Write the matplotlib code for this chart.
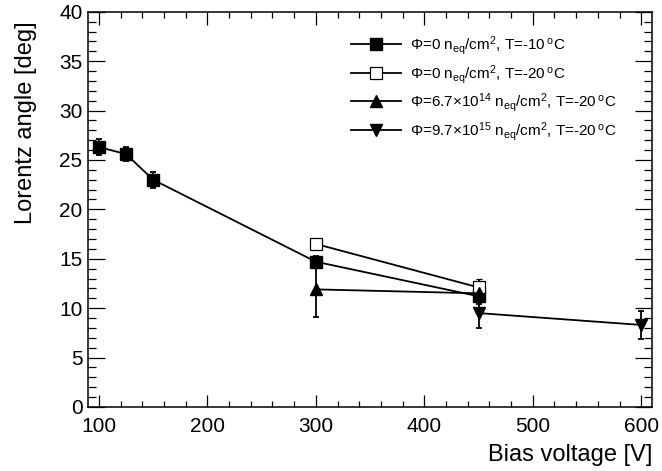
import matplotlib
matplotlib.use("Agg")
import matplotlib.pyplot as plt
from matplotlib.ticker import MultipleLocator
from matplotlib.lines import Line2D

plt.rcParams['font.family'] = ['Liberation Sans', 'DejaVu Sans']
plt.rcParams['mathtext.fontset'] = 'custom'
plt.rcParams['mathtext.rm'] = 'Liberation Sans'
plt.rcParams['mathtext.it'] = 'Liberation Sans'

# Data
x1 = [100, 125, 150, 300, 450]
y1 = [26.3, 25.6, 23.0, 14.7, 11.2]
e1 = [0.8, 0.7, 0.8, 0.6, 0.8]

x2 = [300, 450]
y2 = [16.5, 12.1]
e2 = [0.0, 0.9]

x3 = [300, 450]
y3 = [11.9, 11.5]
e3 = [2.8, 0.5]

x4 = [450, 600]
y4 = [9.5, 8.3]
e4 = [1.5, 1.4]

labels = [
    r'$\Phi$=0 n$_{\rm eq}$/cm$^{2}$, T=-10$\,^{\rm o}$C',
    r'$\Phi$=0 n$_{\rm eq}$/cm$^{2}$, T=-20$\,^{\rm o}$C',
    r'$\Phi$=6.7$\times$10$^{14}$ n$_{\rm eq}$/cm$^{2}$, T=-20$\,^{\rm o}$C',
    r'$\Phi$=9.7$\times$10$^{15}$ n$_{\rm eq}$/cm$^{2}$, T=-20$\,^{\rm o}$C',
]

fig = plt.figure(figsize=(6.62, 4.71), dpi=100)
ax = fig.add_axes([0.133, 0.136, 0.852, 0.839])

LW = 1.3
common = dict(color='black', lw=LW, elinewidth=LW, capsize=2, capthick=LW)
styles = [
    dict(marker='s', ms=8, mfc='black', mec='black'),
    dict(marker='s', ms=8.5, mfc='white', mec='black', mew=0.9),
    dict(marker='^', ms=8.5, mfc='black', mec='black'),
    dict(marker='v', ms=8.5, mfc='black', mec='black'),
]
ax.errorbar(x1, y1, yerr=e1, **styles[0], **common)
ax.errorbar(x2, y2, yerr=e2, **styles[1], **common)
ax.errorbar(x3, y3, yerr=e3, **styles[2], **common)
ax.errorbar(x4, y4, yerr=e4, **styles[3], **common)

ax.set_xlim(90, 610)
ax.set_ylim(0, 40)
ax.xaxis.set_major_locator(MultipleLocator(100))
ax.xaxis.set_minor_locator(MultipleLocator(20))
ax.yaxis.set_major_locator(MultipleLocator(5))
ax.yaxis.set_minor_locator(MultipleLocator(1))
ax.tick_params(which='both', direction='in', top=True, right=True, labelsize=15, width=0.9)
ax.tick_params(axis='x', which='major', length=9, pad=7)
ax.tick_params(axis='x', which='minor', length=4.5)
ax.tick_params(axis='y', which='major', length=12.5, pad=4)
ax.tick_params(axis='y', which='minor', length=6)
for s in ax.spines.values():
    s.set_linewidth(1.1)

ax.set_xlabel('Bias voltage [V]', fontsize=17, loc='right', labelpad=6)
ax.set_ylabel('Lorentz angle [deg]', fontsize=17)
ax.yaxis.set_label_coords(-0.09, 0.975)
ax.yaxis.label.set_horizontalalignment('right')

handles = [Line2D([], [], color='black', lw=LW, **st) for st in styles]
leg = ax.legend(handles, labels, loc='upper left', bbox_to_anchor=(0.466, 0.944), frameon=False,
                fontsize=11, handlelength=3.3, labelspacing=0.38, handletextpad=0.55,
                borderaxespad=0, borderpad=0)

fig.savefig('out.png', dpi=100)
